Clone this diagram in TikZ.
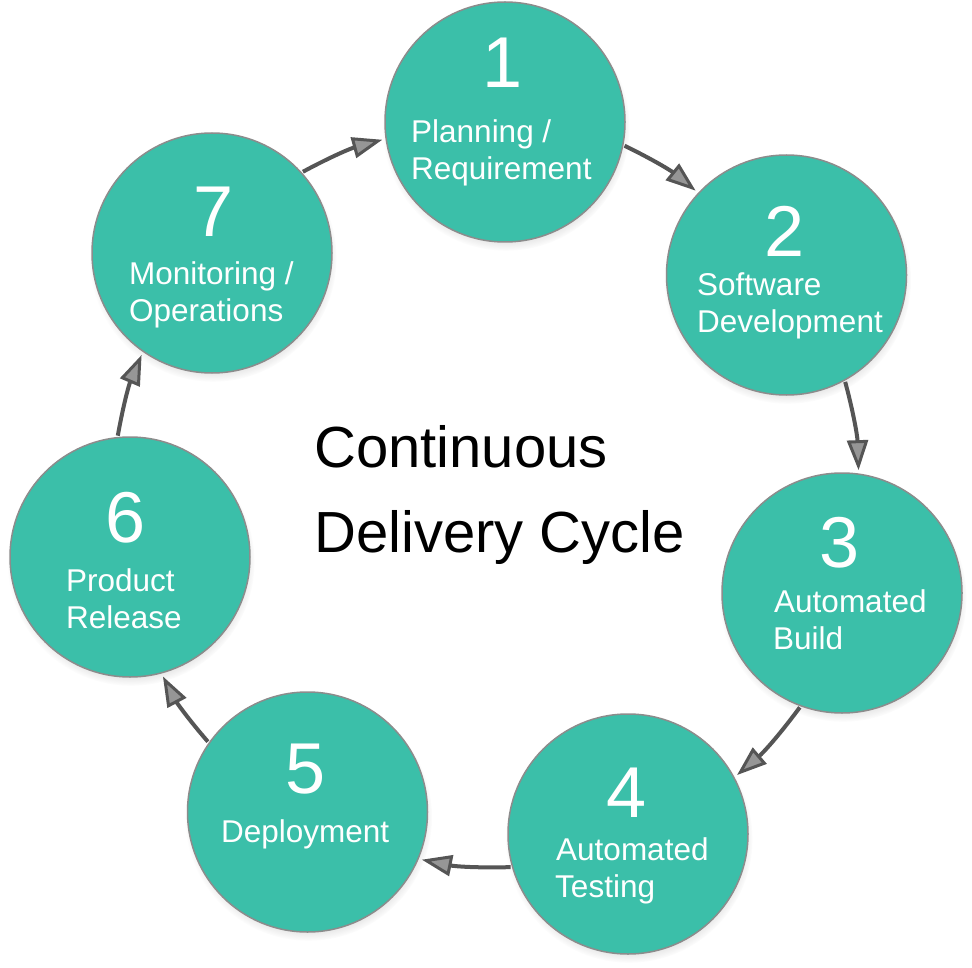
\documentclass[tikz,border=0pt]{standalone}
\usepackage{fontspec}
\setmainfont{Liberation Sans}
\usetikzlibrary{arrows.meta,shadows}
\definecolor{tealfill}{RGB}{59,191,169}
\definecolor{rim}{RGB}{140,140,140}
\definecolor{arrowc}{RGB}{85,85,85}
\definecolor{arrowin}{RGB}{150,150,150}
\begin{document}
\begin{tikzpicture}[x=1pt,y=1pt,
  stage/.style={circle, fill=tealfill, draw=rim, line width=1.5pt, minimum size=240pt,
    inner sep=0pt, outer sep=0pt,
    circular drop shadow={shadow scale=1.03, shadow xshift=1pt, shadow yshift=-5pt, opacity=0.35}},
  num/.style={text=white, font=\fontsize{72}{72}\selectfont, anchor=base, inner sep=0pt},
  lbl/.style={text=white, font=\fontsize{31.5}{31.5}\selectfont, anchor=base west, inner sep=0pt},
  title/.style={text=black, font=\fontsize{58}{58}\selectfont, anchor=base west, inner sep=0pt},
  flow/.style={draw=arrowc, line width=4pt,
    -{Triangle[length=30pt,width=21pt,fill=arrowin,line width=3pt]},
    shorten <=2pt, shorten >=4pt}]
\useasboundingbox (0,0) rectangle (972,-968);
\fill[white] (0,0) rectangle (972,-968);

% stages
\node[stage] (n1) at (505,-122) {};
\node[stage] (n2) at (786.5,-275) {};
\node[stage] (n3) at (842,-593) {};
\node[stage] (n4) at (628,-834) {};
\node[stage] (n5) at (307.5,-812) {};
\node[stage] (n6) at (130,-557) {};
\node[stage] (n7) at (212,-253) {};

% texts
\node[num] (d1) at (503,-88) {1};
\node[lbl] (a1) at (411,-143) {Planning /};
\node[lbl] (b1) at (411,-180) {Requirement};

\node[num] (d2) at (785,-257) {2};
\node[lbl] (a2) at (697,-296) {Software};
\node[lbl] (b2) at (697,-333) {Development};

\node[num] (d3) at (840,-567) {3};
\node[lbl] (a3) at (774,-612) {Automated};
\node[lbl] (b3) at (773,-649) {Build};

\node[num] (d4) at (627,-817) {4};
\node[lbl] (a4) at (556,-860) {Automated};
\node[lbl] (b4) at (555,-897) {Testing};

\node[num] (d5) at (306,-793) {5};
\node[lbl] (a5) at (221,-842) {Deployment};

\node[num] (d6) at (126,-542) {6};
\node[lbl] (a6) at (66,-591) {Product};
\node[lbl] (b6) at (66,-628) {Release};

\node[num] (d7) at (214,-237) {7};
\node[lbl] (a7) at (129,-285) {Monitoring /};
\node[lbl] (b7) at (129,-322) {Operations};

\node[title] (t1) at (314,-467) {Continuous};
\node[title] (t2) at (314,-552) {Delivery Cycle};

% cycle arrows
\draw[flow] (n7.42) to[bend left=6.5] (n1.188);
\draw[flow] (n1.-11) to[bend left=6.5] (n2.137);
\draw[flow] (n2.-61) to[bend left=6.5] (n3.82);
\draw[flow] (n3.250) to[bend left=6.5] (n4.28);
\draw[flow] (n4.196) to[bend left=6.5] (n5.-23);
\draw[flow] (n5.145) to[bend left=6.5] (n6.-75);
\draw[flow] (n6.96) to[bend left=6.5] (n7.235);
\end{tikzpicture}
\end{document}
